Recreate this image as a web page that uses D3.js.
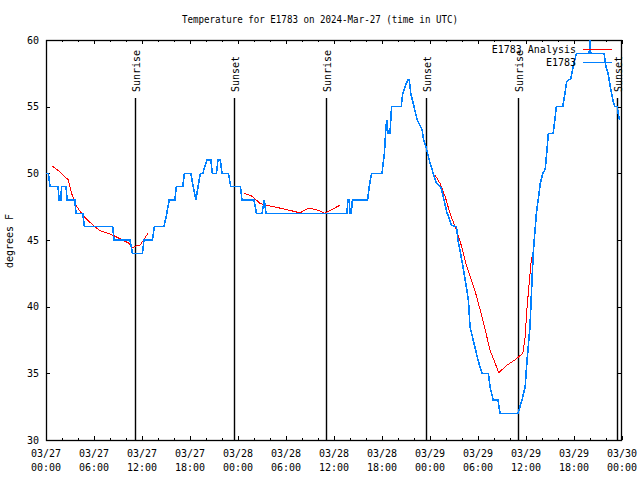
<!DOCTYPE html>
<html><head><meta charset="utf-8">
<script src="https://cdn.jsdelivr.net/npm/d3@7"></script>
<style>
body{margin:0;background:#fff}
svg{display:block}
text{font-family:"DejaVu Sans Mono","Liberation Mono",monospace;font-size:10px;fill:#000}
</style>
</head><body>
<svg id="chart" width="640" height="480"></svg>
<script>
const titleText = "Temperature for E1783 on 2024-Mar-27 (time in UTC)";
const yLabelText = "degrees F";
const seriesNames = ["E1783 Analysis", "E1783"];
const seriesColors = ["#ff0000", "#0080ff"];

const xTickHours = [0, 6, 12, 18, 24, 30, 36, 42, 48, 54, 60, 66, 72];
const xTickDates = ["03/27","03/27","03/27","03/27","03/28","03/28","03/28","03/28","03/29","03/29","03/29","03/29","03/30"];
const xTickTimes = ["00:00","06:00","12:00","18:00","00:00","06:00","12:00","18:00","00:00","06:00","12:00","18:00","00:00"];
const yTicks = [30, 35, 40, 45, 50, 55, 60];

const sunriseHours = [11.12, 35.05, 59.0];
const sunsetHours = [23.5, 47.5, 71.42];

// Observed temperature (E1783), hours since 03/27 00:00 UTC
const blueHours = [0,0.3,0.5,1.5,1.65,1.85,1.95,2.5,2.65,3.6,3.75,4.6,4.8,8.33,8.5,10.5,10.8,12.05,12.25,13.3,13.55,14.75,15.1,15.4,16.1,16.3,17.1,17.3,18.1,18.4,18.75,19.0,19.3,19.6,20.1,20.6,20.8,21.3,21.5,21.8,22.0,22.8,23.1,24.3,24.5,26.0,26.3,27.0,27.3,27.5,37.6,37.75,37.9,38.0,38.15,38.3,40.2,40.4,40.7,42.0,42.3,42.5,42.6,42.75,43.0,43.2,44.4,44.6,45.2,45.4,45.6,46.0,46.4,47.0,47.2,47.5,47.9,48.4,48.8,49.4,50.1,50.7,51.3,51.5,52.2,52.8,53.0,53.6,54.0,54.5,55.3,55.5,55.9,56.5,56.75,59.0,59.5,59.9,60.1,60.5,60.9,61.3,61.8,62.1,62.4,62.6,62.8,63.4,63.6,63.8,64.6,65.1,65.6,65.9,66.3,67.9,68.0,68.1,69.75,70.0,70.3,70.5,70.9,71.1,71.4,71.55,71.7];
const blueTemps = [50,50,49,49,48,48,49,49,48,48,47,47,46,46,45,45,44,44,45,45,46,46,47,48,48,49,49,50,50,49,48,49,50,50,51,51,50,50,51,51,50,50,49,49,48,48,47,47,48,47,47,48,48,47,47,48,48,49,50,50,51.5,53.5,54,53,53,55,55,56,57,57,56,55,54,53.3,52.5,52,51,50,49.3,48.9,47.1,46.1,46,45,42.75,40.5,38.5,37,36,35,35,34,33,33,32,32,33,34,35.75,38.5,44,47,49.3,50,50.3,51.6,53,53,54,55,55,56.9,57.1,58,59,59,60,59,59,58,57.4,56.6,55.4,55,55,54.4,54];

// Analysis (E1783 Analysis); null separates segments
const redHours = [0.79,1.75,2.8,3.2,3.75,4.67,5.9,6.75,8.2,9.25,10.4,10.8,11.3,11.75,12.2,12.8,null,24.75,25.7,26.75,27.6,28.8,30.3,31.3,31.8,32.8,33.6,34.2,34.8,35.5,36.7,null,48.65,49.25,49.9,50.5,51.3,51.96,52.6,53.6,54.5,55.5,56.6,57.6,58.6,59.6,59.9,60.1,60.4,60.7];
const redTemps = [50.55,50.1,49.5,48.5,47.6,46.8,46.1,45.7,45.4,45.1,44.75,44.4,44.55,44.6,45,45.55,null,48.5,48.3,47.75,47.6,47.45,47.25,47.1,47.05,47.4,47.3,47.2,47.0,47.2,47.6,null,49.85,49.25,48.25,47,45.75,44.5,43,41.25,39.25,36.75,35.05,35.6,36,36.5,37.75,39.75,41.75,43.75];

const svg = d3.select("#chart");
const x = d3.scaleLinear().domain([0, 72]).range([46, 622]);
const y = d3.scaleLinear().domain([30, 60]).range([440, 40]);
const X0 = 46, X1 = 621, Y0 = 40, Y1 = 440;

// Title
svg.append("text").attr("x", 320).attr("y", 23).attr("text-anchor", "middle")
  .attr("textLength", 276).attr("lengthAdjust", "spacingAndGlyphs").text(titleText);

// Axes (ticks inward, mirrored)
const minorHours = d3.range(0, 73, 2).filter(h => h % 6 !== 0);
function axisG(axis, tx, ty) {
  const g = svg.append("g").attr("transform", `translate(${tx},${ty})`).call(axis);
  g.select(".domain").remove();
  g.selectAll("text").remove();
  g.selectAll("line").attr("stroke", "#000").attr("shape-rendering", "crispEdges");
  return g;
}
axisG(d3.axisBottom(x).tickValues(xTickHours).tickSizeInner(-4).tickSizeOuter(0), 0, Y1);
axisG(d3.axisBottom(x).tickValues(minorHours).tickSizeInner(-2).tickSizeOuter(0), 0, Y1);
axisG(d3.axisTop(x).tickValues(xTickHours).tickSizeInner(-4).tickSizeOuter(0), 0, Y0);
axisG(d3.axisTop(x).tickValues(minorHours).tickSizeInner(-2).tickSizeOuter(0), 0, Y0);
axisG(d3.axisLeft(y).tickValues(yTicks).tickSizeInner(-4).tickSizeOuter(0), X0, 0);
axisG(d3.axisRight(y).tickValues(yTicks).tickSizeInner(-4).tickSizeOuter(0), X1, 0);

// Y tick labels
svg.append("g").selectAll("text").data(yTicks).join("text")
  .attr("x", 39).attr("y", d => y(d)).attr("dy", "0.35em").attr("text-anchor", "end").text(d => d);

// X tick labels (two lines)
const xl = svg.append("g").selectAll("text").data(xTickHours).join("text")
  .attr("text-anchor", "middle");
xl.append("tspan").attr("x", d => x(d)).attr("y", 457).text((d, i) => xTickDates[i]);
xl.append("tspan").attr("x", d => x(d)).attr("y", 471).text((d, i) => xTickTimes[i]);

// Y label
svg.append("text").attr("transform", "translate(13,241) rotate(-90)").attr("text-anchor", "middle").text(yLabelText);

// Border
svg.append("rect").attr("x", X0 + 0.5).attr("y", Y0 + 0.5).attr("width", X1 - X0).attr("height", Y1 - Y0)
  .attr("fill", "none").attr("stroke", "#000").attr("stroke-width", 1.3);

// Sunrise / Sunset markers
const sunEvents = sunriseHours.map(h => ({h, label: "Sunrise"})).concat(sunsetHours.map(h => ({h, label: "Sunset"})));
const sg = svg.append("g");
sg.selectAll("line").data(sunEvents).join("line")
  .attr("x1", d => Math.round(x(d.h)) + 0.5).attr("x2", d => Math.round(x(d.h)) + 0.5).attr("y1", 98).attr("y2", Y1)
  .attr("stroke", "#000").attr("stroke-width", 1.4);
sg.selectAll("text").data(sunEvents).join("text")
  .attr("transform", d => `translate(${Math.round(x(d.h)) + 4.5},92) rotate(-90)`)
  .attr("text-anchor", "start").text(d => d.label);

// Series
const blueData = blueHours.map((h, i) => [h, blueTemps[i]]);
const redData = redHours.map((h, i) => [h, redTemps[i]]);
const line = d3.line().defined(d => d[0] !== null && d[1] !== null).x(d => x(d[0])).y(d => y(d[1]));
svg.append("path").datum(redData).attr("d", line).attr("fill", "none")
  .attr("stroke", seriesColors[0]).attr("stroke-width", 1).attr("shape-rendering", "crispEdges");
svg.append("path").datum(blueData).attr("d", line).attr("fill", "none")
  .attr("stroke", seriesColors[1]).attr("stroke-width", 1.6).attr("shape-rendering", "crispEdges");

// Legend
const lg = svg.append("g");
seriesNames.forEach((name, i) => {
  const ly = 49.5 + i * 13;
  lg.append("text").attr("x", 576).attr("y", ly).attr("dy", "0.35em").attr("text-anchor", "end").text(name);
  lg.append("line").attr("x1", 583).attr("x2", 612).attr("y1", ly).attr("y2", ly)
    .attr("stroke", seriesColors[i]).attr("stroke-width", i === 1 ? 1.6 : 1).attr("shape-rendering", "crispEdges");
});
</script>
</body></html>
